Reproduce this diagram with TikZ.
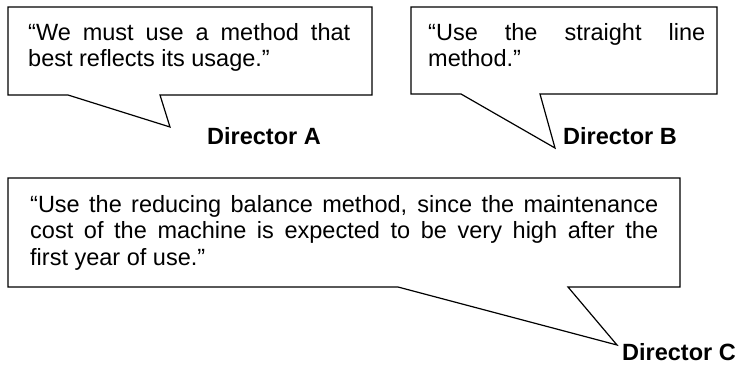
\documentclass[tikz,border=0pt]{standalone}
\usepackage{fontspec}
\setmainfont{Liberation Sans}
\tolerance=10000
\hbadness=10000
\begin{document}
\begin{tikzpicture}[x=1pt,y=-1pt,
  balloon/.style={draw=black,line width=1.2pt,line join=miter,fill=white},
  quote/.style={anchor=north west,inner sep=0pt,align=justify,
    font=\fontsize{23.5}{26.5}\selectfont},
  who/.style={anchor=base west,inner sep=0pt,font=\fontsize{23.5}{26.5}\selectfont\bfseries}]
\path[use as bounding box] (0,0) rectangle (738,364);
% balloon A
\draw[balloon] (8,7) -- (372,7) -- (372,95) -- (160,95) -- (170,127) -- (68,95) -- (8,95) -- cycle;
% balloon B
\draw[balloon] (411,7) -- (717,7) -- (717,94) -- (540,94) -- (555,148) -- (461,94) -- (411,94) -- cycle;
% balloon C
\draw[balloon] (8,178) -- (680,178) -- (680,287) -- (568,287) -- (617,345) -- (398,287) -- (8,287) -- cycle;
\node[quote,text width=322pt] (qa) at (28,23) {“We must use a method that\linebreak best reflects its usage.”};
\node[quote,text width=277pt] (qb) at (428,23) {“Use the straight line\linebreak method.”};
\node[quote,text width=628pt] (qc) at (30,195) {“Use the reducing balance method, since the maintenance\linebreak cost of the machine is expected to be very high after the\linebreak first year of use.”};
\node[who] (da) at (207,144) {Director A};
\node[who] (db) at (563,144) {Director B};
\node[who] (dc) at (622,360) {Director C};
\end{tikzpicture}
\end{document}
